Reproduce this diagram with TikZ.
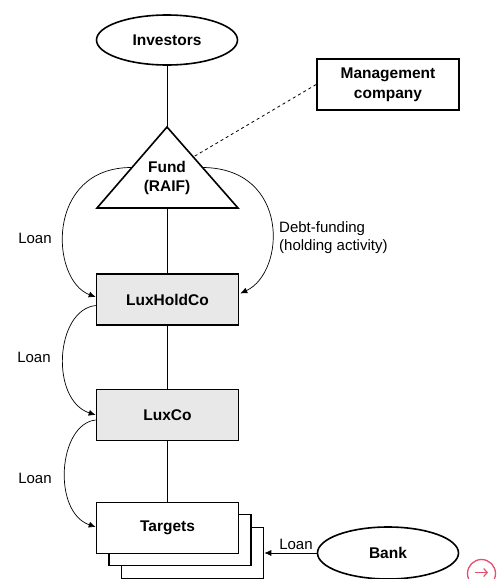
\documentclass[tikz,border=0pt]{standalone}
\usepackage{fontspec}
\setmainfont{Liberation Sans}
\usetikzlibrary{shapes.geometric,arrows.meta,calc}
\definecolor{boxfill}{RGB}{232,232,232}
\definecolor{navpink}{RGB}{232,80,110}
\begin{document}
\begin{tikzpicture}[x=1pt,y=-1pt,
  ent/.style={draw,line width=1.6pt,font=\fontsize{15.5}{19}\selectfont\bfseries,inner sep=0pt,align=center},
  boxg/.style={ent,rectangle,fill=boxfill,minimum width=142pt,minimum height=51pt},
  boxw/.style={ent,rectangle,fill=white,minimum width=142pt,minimum height=51pt},
  oval/.style={ent,ellipse,minimum width=141pt,minimum height=50pt},
  link/.style={line width=0.8pt},
  flow/.style={line width=0.7pt,-{Latex[length=7pt,width=6pt]}},
  lbl/.style={font=\fontsize{15}{18}\selectfont,inner sep=0pt}]
\useasboundingbox (0,0) rectangle (499,579);
% top
\node[oval] (inv) at (167,40) {Investors};
\coordinate (apex) at (167,127);
\coordinate (bl) at (97,208);
\coordinate (br) at (238,208);
\coordinate (bm) at (167.5,208);
\draw[line width=1.6pt,line join=miter,fill=white] (apex) -- (bl) -- (br) -- cycle;
\node[font=\fontsize{15.5}{19}\selectfont\bfseries,align=center,inner sep=0pt] (fund) at (167,177.5) {Fund\\(RAIF)};
\node[boxw,font=\fontsize{15.5}{20}\selectfont\bfseries] (mgmt) at (388,84.5) {Management\\company};
% chain
\node[boxg] (lhc) at (167.5,299.5) {LuxHoldCo};
\node[boxg] (lux) at (167.5,415) {LuxCo};
\node[boxw] (t3) at (192.5,553) {};
\node[boxw] (t2) at (180,540) {};
\node[boxw] (t1) at (167.5,528) {Targets};
\node[oval,minimum height=52pt] (bank) at (388,553) {Bank};
% plain links
\draw[link] (inv) -- (apex);
\draw[link] (bm) -- (lhc);
\draw[link] (lhc) -- (lux);
\draw[link] (lux) -- (t1);
\draw[link,dashed] (mgmt.west) -- ($(apex)!0.37!(br)$);
% loans
\draw[flow] ($(apex)!0.5!(bl)$) .. controls (45,167) and (50,280) .. ([yshift=2.5pt]lhc.west);
\draw[flow] ($(apex)!0.5!(br)$) .. controls (290,168) and (286,272) .. ([xshift=1pt,yshift=6pt]lhc.east);
\draw[flow] ([yshift=-6pt]lhc.west) .. controls (55,310) and (50,400) .. (lux.west);
\draw[flow] ([yshift=-5pt]lux.west) .. controls (58,424) and (52,512) .. ([yshift=1pt]t1.west);
\draw[flow] (bank.west) -- (t3.east);
% labels
\node[lbl] (l1) at (35,238) {Loan};
\node[lbl,anchor=west,align=left] (l2) at (279,238) {Debt-funding\\(holding activity)};
\node[lbl] (l3) at (34,357) {Loan};
\node[lbl] (l4) at (35,478) {Loan};
\node[lbl] (l5) at (296,544) {Loan};
% corner icon
\node[circle,draw=navpink,line width=1.3pt,minimum size=28pt,inner sep=0pt] (nav) at (481.5,573.5) {};
\draw[navpink,line width=1.2pt,-{Straight Barb[length=3.5pt,width=8pt]}] ([xshift=-6.5pt,yshift=1pt]nav.center) -- ([xshift=6.5pt,yshift=1pt]nav.center);
\end{tikzpicture}
\end{document}
